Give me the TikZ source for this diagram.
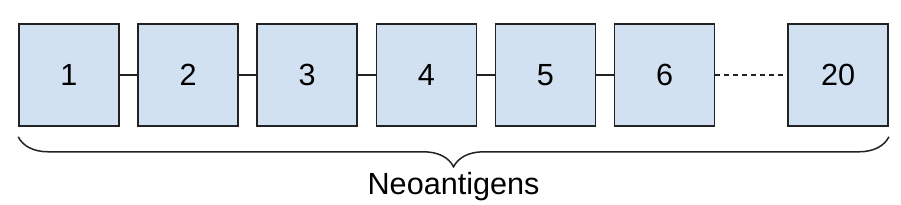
\documentclass[tikz,border=0pt]{standalone}
\usepackage{fontspec}
\setmainfont{Liberation Sans}
\usetikzlibrary{positioning,decorations.pathreplacing,calc}
\definecolor{boxblue}{RGB}{210,225,242}
\definecolor{edgegray}{RGB}{34,34,34}

\begin{document}
\begin{tikzpicture}[x=1pt,y=1pt,line cap=butt,
    neobox/.style={draw=edgegray,fill=boxblue,line width=1.6pt,minimum width=100pt,
      minimum height=102pt,inner sep=0pt,font=\fontsize{30.6pt}{36pt}\selectfont},
    link/.style={line width=1.5pt,color=edgegray}]
  \useasboundingbox (0,0) rectangle (901,205);
  \node[neobox] (n1) at (69,130) {1};
  \node[neobox,right=17.5pt of n1] (n2) {2};
  \node[neobox,right=17.5pt of n2] (n3) {3};
  \node[neobox,right=17.5pt of n3] (n4) {4};
  \node[neobox,right=17.5pt of n4] (n5) {5};
  \node[neobox,right=17.5pt of n5] (n6) {6};
  \node[neobox,right=72pt of n6] (n20) {20};
  \foreach \a/\b in {n1/n2,n2/n3,n3/n4,n4/n5,n5/n6}
    \draw[link] (\a) -- (\b);
  \draw[link,dash pattern=on 5pt off 4pt] (n6) -- (n20);
  % brace under the row
  \coordinate (bl) at ([yshift=-10pt]n1.south west);
  \coordinate (br) at ([yshift=-10pt]n20.south east);
  \draw[link,decorate,decoration={brace,mirror,amplitude=30pt}] (bl) -- (br);
  \node[anchor=base,inner sep=0pt,font=\fontsize{30.6pt}{36pt}\selectfont] (lbl)
    at ($(bl)!0.5!(br)+(0,-57.5)$) {Neoantigens};
\end{tikzpicture}
\end{document}
